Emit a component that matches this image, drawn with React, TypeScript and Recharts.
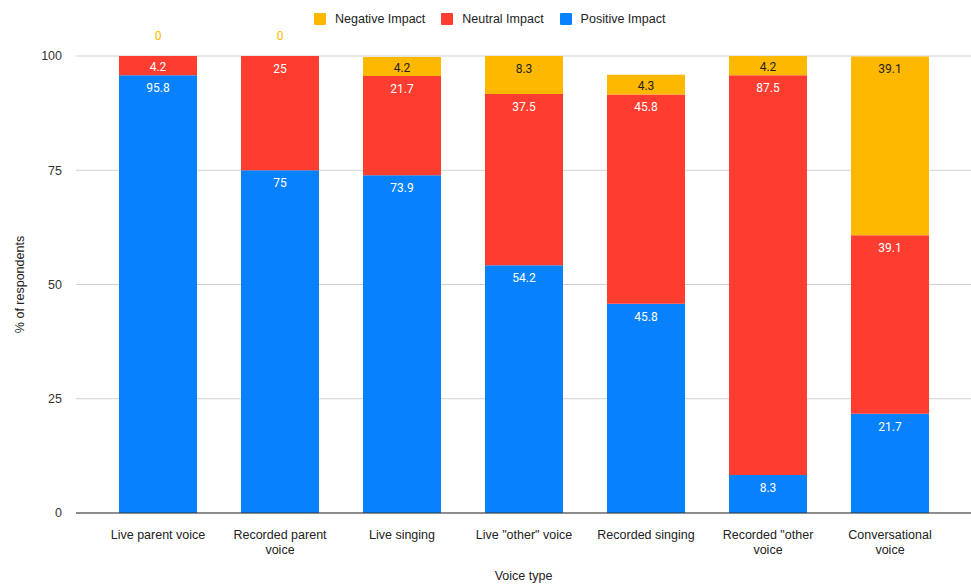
import { BarChart, Bar, XAxis, YAxis, CartesianGrid, LabelList } from 'recharts'

// Voice types; "\n" marks where the axis label wraps
const categories = [
  'Live parent voice',
  'Recorded parent\nvoice',
  'Live singing',
  'Live "other" voice',
  'Recorded singing',
  'Recorded "other\nvoice',
  'Conversational\nvoice',
]

const positive = [95.8, 75, 73.9, 54.2, 45.8, 8.3, 21.7]
const neutral = [4.2, 25, 21.7, 37.5, 45.8, 87.5, 39.1]
const negative = [0, 0, 4.2, 8.3, 4.3, 4.2, 39.1]

const yTicks = [0, 25, 50, 75, 100]

const BLUE = '#0782fc'
const RED = '#fd3d30'
const YELLOW = '#ffb800'

const data = categories.map((name, i) => ({
  name,
  positive: positive[i],
  neutral: neutral[i],
  negative: negative[i],
}))

const legendItems = [
  { label: 'Negative Impact', color: YELLOW },
  { label: 'Neutral Impact', color: RED },
  { label: 'Positive Impact', color: BLUE },
]

const AXIS_FONT = 'Arial, "Liberation Sans", sans-serif'
const LABEL_FONT = 'Roboto, Arial, sans-serif'

function CategoryTick({ x, y, payload }: any) {
  const lines = String(payload.value).split('\n')
  return (
    <text x={x} y={y} textAnchor="middle" fontSize={12.5} fontFamily={AXIS_FONT} fill="#222">
      {lines.map((line, i) => (
        <tspan key={i} x={x} dy={i === 0 ? 18 : 15}>
          {line}
        </tspan>
      ))}
    </text>
  )
}

// value printed near the top of its own segment
function segmentLabel(textColor: string) {
  return (props: any) => {
    const { x, y, width, height, value } = props
    if (!value) return null
    const cx = Number(x) + Number(width) / 2
    const off = Math.min(13, Number(height) / 2 + 1.5)
    return (
      <text x={cx} y={Number(y) + off + 4} textAnchor="middle" fontSize={12} fontFamily={LABEL_FONT} fill={textColor}>
        {value}
      </text>
    )
  }
}

// zero-valued negative segments: their "0" floats above the stack top
function zeroAboveLabel(props: any) {
  const { x, y, width, value } = props
  if (value !== 0) return null
  const cx = Number(x) + Number(width) / 2
  return (
    <text x={cx} y={Number(y) - 16} textAnchor="middle" fontSize={12} fontFamily={LABEL_FONT} fill={YELLOW}>
      {value}
    </text>
  )
}

function Legend() {
  return (
    <div
      style={{
        position: 'absolute',
        left: 314,
        top: 12,
        display: 'flex',
        alignItems: 'center',
        fontFamily: AXIS_FONT,
        fontSize: 12.5,
        color: '#222',
      }}
    >
      {legendItems.map((item) => (
        <div key={item.label} style={{ display: 'flex', alignItems: 'center', marginRight: 16 }}>
          <span style={{ width: 12, height: 12, background: item.color, borderRadius: 1, marginRight: 9 }} />
          <span>{item.label}</span>
        </div>
      ))}
    </div>
  )
}

export default function App() {
  return (
    <div style={{ position: 'absolute', left: 0, top: 0, width: 971, height: 586, background: '#fff' }}>
      <Legend />
      <BarChart width={971} height={586} data={data} margin={{ top: 56, right: 0, left: 0, bottom: 0 }} barSize={78}>
        <CartesianGrid vertical={false} stroke="#d0d0d0" />
        <XAxis
          dataKey="name"
          interval={0}
          height={73}
          padding={{ left: 21, right: 20 }}
          axisLine={{ stroke: '#333' }}
          tickLine={false}
          tick={<CategoryTick />}
          label={{
            content: (p: any) => {
              const vb = p.viewBox
              return (
                <text
                  x={vb.x + vb.width / 2}
                  y={vb.y + 67}
                  textAnchor="middle"
                  fontSize={12.5}
                  fontFamily={AXIS_FONT}
                  fill="#222"
                >
                  Voice type
                </text>
              )
            },
          }}
        />
        <YAxis
          width={76}
          domain={[0, 100]}
          ticks={yTicks}
          axisLine={false}
          tickLine={false}
          tickMargin={8}
          tick={{ fontSize: 12.5, fontFamily: AXIS_FONT, fill: '#333' }}
          label={{
            content: (p: any) => {
              const vb = p.viewBox
              const cy = vb.y + vb.height / 2
              return (
                <text
                  x={24}
                  y={cy}
                  transform={`rotate(-90 24 ${cy})`}
                  textAnchor="middle"
                  fontSize={12.5}
                  fontFamily={AXIS_FONT}
                  fill="#222"
                >
                  % of respondents
                </text>
              )
            },
          }}
        />
        <Bar dataKey="positive" stackId="a" fill={BLUE} isAnimationActive={false}>
          <LabelList dataKey="positive" content={segmentLabel('#fff')} />
        </Bar>
        <Bar dataKey="neutral" stackId="a" fill={RED} isAnimationActive={false}>
          <LabelList dataKey="neutral" content={segmentLabel('#fff')} />
          <LabelList dataKey="negative" content={zeroAboveLabel} />
        </Bar>
        <Bar dataKey="negative" stackId="a" fill={YELLOW} isAnimationActive={false}>
          <LabelList dataKey="negative" content={segmentLabel('#222')} />
        </Bar>
      </BarChart>
    </div>
  )
}
